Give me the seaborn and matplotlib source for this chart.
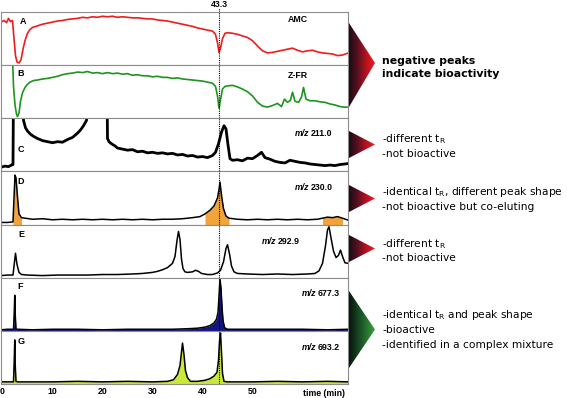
import numpy as np
import pandas as pd
import seaborn as sns
import matplotlib.pyplot as plt
import matplotlib.transforms as mtrans
from matplotlib.patches import Polygon
from matplotlib.colors import LinearSegmentedColormap

sns.set_style('white')
plt.rcParams['font.family'] = ['DejaVu Sans']
plt.rcParams['mathtext.default'] = 'regular'
plt.rcParams['text.color'] = 'black'
plt.rcParams['xtick.color'] = 'black'

# ---------------- data (retention time in min, normalised signal) ----------------
a_t = [-0.3, 0.3, 0.8, 1.2, 1.6, 2.0, 2.3, 2.6, 2.9, 3.3, 3.7, 4.1, 4.5, 5.0, 5.5, 6.0, 7, 8, 9, 10,
       11, 12, 13, 14, 15, 16, 17, 18, 19, 20, 21, 22, 23, 24, 25, 26, 27, 28, 29, 30, 31, 32, 33,
       34, 35, 36, 37, 38, 39, 40, 41, 42, 42.6, 43.0, 43.3, 43.6, 44.0, 44.5, 45, 46, 47, 48, 49,
       50, 51, 52, 53, 54, 55, 56, 57, 58, 59, 60, 61, 62, 63, 64, 65, 66, 67, 68, 69.2]
a_v = [0.81, 0.84, 0.80, 0.88, 0.82, 0.84, 0.50, 0.18, 0.06, 0.04, 0.10, 0.30, 0.46, 0.60, 0.67,
       0.71, 0.74, 0.77, 0.79, 0.81, 0.83, 0.84, 0.86, 0.87, 0.88, 0.90, 0.89, 0.91, 0.90, 0.92,
       0.91, 0.92, 0.90, 0.91, 0.90, 0.89, 0.89, 0.88, 0.87, 0.87, 0.85, 0.84, 0.83, 0.81, 0.79,
       0.77, 0.75, 0.73, 0.70, 0.68, 0.66, 0.64, 0.58, 0.42, 0.24, 0.32, 0.50, 0.60, 0.61, 0.60,
       0.58, 0.55, 0.52, 0.46, 0.36, 0.27, 0.23, 0.24, 0.26, 0.28, 0.30, 0.32, 0.28, 0.25, 0.27,
       0.28, 0.25, 0.23, 0.22, 0.21, 0.18, 0.19, 0.23]

b_t = [2.05, 2.2, 2.5, 2.8, 3.0, 3.3, 3.6, 4.0, 4.5, 5.0, 5.5, 6.2, 7, 8, 9, 10, 11, 12, 13, 14,
       15, 16, 17, 18, 19, 20, 21, 22, 23, 24, 25, 26, 27, 28, 29, 30, 31, 32, 33, 34, 35, 36, 37,
       38, 39, 40, 41, 42, 42.6, 43.0, 43.3, 43.6, 44.0, 44.5, 45, 46, 47, 48, 49, 50, 51, 52, 53,
       54, 55, 55.8, 56.4, 57.0, 57.6, 58.0, 58.5, 59.2, 59.8, 60.2, 60.7, 61.5, 62.5, 63.5, 64.5,
       65.5, 66.5, 67.5, 68.3, 69.2]
b_v = [1.02, 0.60, 0.25, 0.08, 0.03, 0.10, 0.32, 0.48, 0.58, 0.64, 0.68, 0.71, 0.72, 0.74, 0.75,
       0.77, 0.79, 0.82, 0.84, 0.85, 0.87, 0.86, 0.88, 0.85, 0.86, 0.84, 0.86, 0.84, 0.85, 0.83,
       0.84, 0.81, 0.82, 0.80, 0.80, 0.78, 0.79, 0.77, 0.77, 0.75, 0.76, 0.74, 0.73, 0.72, 0.71,
       0.70, 0.68, 0.66, 0.60, 0.42, 0.19, 0.35, 0.55, 0.60, 0.61, 0.62, 0.59, 0.55, 0.50, 0.42,
       0.30, 0.23, 0.21, 0.24, 0.28, 0.22, 0.36, 0.30, 0.34, 0.49, 0.32, 0.30, 0.40, 0.58, 0.36,
       0.33, 0.33, 0.31, 0.30, 0.27, 0.25, 0.22, 0.21, 0.21]

c_t = [-0.3, 0.5, 1.2, 1.8, 2.1, 2.2, 3.9, 4.2, 4.6, 5.0, 5.6, 6.2, 7, 8, 9, 10, 11, 12, 13, 14,
       15, 15.6, 16.2, 16.8, 17.2, 20.9, 21.0, 21.3, 21.8, 22.5, 23, 24, 25, 26, 27, 28, 29, 30, 31,
       32, 33, 34, 35, 36, 37, 38, 39, 40, 41, 42, 42.6, 43.2, 43.8, 44.3, 44.7, 45.1, 45.5, 46, 47,
       48, 49, 50, 51, 51.8, 52.5, 53.5, 54.5, 55.5, 56.5, 57.5, 58.5, 59.5, 60.5, 61.5, 62.5, 63.5,
       64.5, 65.5, 66.5, 67.5, 68.5, 69.2]
c_v = [0.08, 0.10, 0.09, 0.12, 0.13, 1.6, 1.6, 0.96, 0.82, 0.76, 0.70, 0.66, 0.62, 0.58, 0.56,
       0.54, 0.56, 0.55, 0.60, 0.64, 0.72, 0.78, 0.86, 0.96, 1.6, 1.6, 0.62, 0.56, 0.52, 0.48, 0.44,
       0.42, 0.40, 0.41, 0.37, 0.38, 0.35, 0.36, 0.34, 0.35, 0.33, 0.34, 0.31, 0.32, 0.29, 0.30,
       0.27, 0.28, 0.26, 0.30, 0.36, 0.52, 0.74, 0.86, 0.80, 0.50, 0.24, 0.21, 0.22, 0.20, 0.25,
       0.24, 0.30, 0.36, 0.26, 0.23, 0.19, 0.17, 0.16, 0.21, 0.19, 0.17, 0.16, 0.14, 0.13, 0.12,
       0.11, 0.12, 0.11, 0.13, 0.14, 0.15]

d_t = [-0.3, 1, 2.1, 2.3, 2.5, 2.7, 3.0, 3.3, 3.8, 4.5, 6, 8, 10, 12, 14, 16, 18, 20, 22, 24, 26,
       28, 30, 32, 34, 36, 38, 39.5, 40.5, 41.5, 42.3, 43.0, 43.3, 43.5, 43.8, 44.2, 44.7, 45.3, 47,
       49, 51, 53, 55, 57, 59, 61, 63, 64, 65, 66, 67, 68, 69.2]
d_v = [0.04, 0.04, 0.05, 0.50, 0.93, 0.88, 0.52, 0.20, 0.13, 0.12, 0.10, 0.11, 0.09, 0.10, 0.09,
       0.10, 0.09, 0.10, 0.09, 0.10, 0.09, 0.10, 0.09, 0.10, 0.10, 0.11, 0.13, 0.15, 0.20, 0.27,
       0.35, 0.50, 0.66, 0.80, 0.55, 0.30, 0.16, 0.12, 0.10, 0.09, 0.10, 0.09, 0.10, 0.09, 0.10,
       0.09, 0.10, 0.12, 0.14, 0.13, 0.15, 0.12, 0.08]
# retention windows where the D trace is shaded
d_fill_windows = [(2.1, 3.8), (40.5, 45.3), (64.0, 68.0)]

e_t = [-0.3, 1, 2.1, 2.4, 2.6, 2.9, 3.3, 3.8, 5, 8, 11, 14, 17, 20, 23, 26, 28, 30, 31, 32, 33,
       34, 34.5, 34.9, 35.2, 35.5, 35.8, 36.1, 36.5, 37, 38, 38.6, 39.2, 39.8, 41, 42, 43, 43.6,
       44.2, 44.7, 45.0, 45.4, 45.8, 46.3, 47, 49, 52, 55, 58, 61, 62.5, 63.3, 64.0, 64.6, 65.0,
       65.3, 65.7, 66.2, 66.7, 67.2, 67.6, 68.0, 68.5, 69.2]
e_v = [0.04, 0.05, 0.05, 0.30, 0.46, 0.25, 0.10, 0.06, 0.05, 0.04, 0.05, 0.05, 0.05, 0.06, 0.06,
       0.07, 0.08, 0.10, 0.12, 0.15, 0.19, 0.27, 0.40, 0.70, 0.87, 0.72, 0.35, 0.17, 0.11, 0.10,
       0.11, 0.14, 0.12, 0.08, 0.06, 0.06, 0.09, 0.14, 0.30, 0.55, 0.62, 0.45, 0.22, 0.11, 0.08,
       0.07, 0.06, 0.07, 0.06, 0.07, 0.08, 0.13, 0.27, 0.60, 0.90, 0.96, 0.75, 0.50, 0.38, 0.42,
       0.52, 0.40, 0.28, 0.27]

f_t = [-0.3, 1, 2.2, 2.35, 2.45, 2.55, 2.7, 3.0, 6, 10, 15, 20, 25, 30, 34, 37, 39, 40.5, 41.5,
       42.3, 42.8, 43.1, 43.3, 43.5, 43.7, 43.9, 44.1, 44.4, 45, 50, 55, 60, 65, 69.2]
f_v = [0.02, 0.03, 0.03, 0.35, 0.67, 0.30, 0.03, 0.03, 0.02, 0.03, 0.03, 0.02, 0.03, 0.03, 0.03,
       0.04, 0.05, 0.07, 0.10, 0.15, 0.22, 0.35, 0.65, 0.98, 0.80, 0.45, 0.20, 0.06, 0.03, 0.03,
       0.03, 0.03, 0.02, 0.03]

g_t = [-0.3, 1, 2.2, 2.35, 2.45, 2.55, 2.7, 3.0, 6, 10, 15, 20, 25, 30, 33, 34.2, 35.0, 35.5,
       35.8, 36.0, 36.3, 36.6, 37.0, 37.6, 39, 40.5, 41.5, 42.3, 42.9, 43.2, 43.4, 43.6, 43.8,
       44.0, 44.3, 45, 50, 55, 60, 65, 69.2]
g_v = [0.04, 0.04, 0.04, 0.45, 0.83, 0.35, 0.05, 0.04, 0.04, 0.04, 0.05, 0.04, 0.05, 0.04, 0.05,
       0.08, 0.18, 0.35, 0.60, 0.77, 0.55, 0.25, 0.12, 0.05, 0.05, 0.07, 0.10, 0.15, 0.22, 0.45,
       0.80, 0.96, 0.60, 0.20, 0.05, 0.04, 0.04, 0.05, 0.04, 0.05, 0.04]

panel_letters = ['A', 'B', 'C', 'D', 'E', 'F', 'G']
panel_tags = ['AMC', 'Z-FR', '211.0', '230.0', '292.9', '677.3', '693.2']
x_ticks = [0, 10, 20, 30, 40, 50]
active_time = 43.3

# ---------------- layout ----------------
W, H = 567, 398
fig = plt.figure(figsize=(W / 100, H / 100), dpi=100)
XMIN, XMAX = -0.4, 69.0
gs = fig.add_gridspec(7, 1, left=0.5 / W, right=347.5 / W, top=1 - 12 / H,
                      bottom=1 - 384 / H, hspace=0)
axes = [fig.add_subplot(gs[i]) for i in range(7)]

traces = [
    dict(t=a_t, v=a_v, color='#ee1c1c', lw=1.2, fill=None, win=None),
    dict(t=b_t, v=b_v, color='#1e931e', lw=1.2, fill=None, win=None),
    dict(t=c_t, v=c_v, color='black', lw=2.0, fill=None, win=None),
    dict(t=d_t, v=d_v, color='black', lw=1.1, fill='#f2a33a', win=d_fill_windows),
    dict(t=e_t, v=e_v, color='black', lw=1.1, fill=None, win=None),
    dict(t=f_t, v=f_v, color='black', lw=1.1, fill='#141482', win=None),
    dict(t=g_t, v=g_v, color='black', lw=1.1, fill='#c9e83a', win=None),
]

for ax, tr in zip(axes, traces):
    df = pd.DataFrame({'t': tr['t'], 'v': tr['v']})
    if tr['fill'] is not None:
        if tr['win'] is None:
            ax.fill_between(df['t'], 0, df['v'], color=tr['fill'], lw=0, zorder=1)
        else:
            for lo, hi in tr['win']:
                sub = df[(df['t'] >= lo) & (df['t'] <= hi)]
                ax.fill_between(sub['t'], 0, sub['v'], color=tr['fill'], lw=0, zorder=1)
    sns.lineplot(data=df, x='t', y='v', ax=ax, color=tr['color'], lw=tr['lw'],
                 estimator=None, sort=False, zorder=2)
    ax.set_xlim(XMIN, XMAX)
    ax.set_ylim(0, 1)
    ax.set_xticks([])
    ax.set_yticks([])
    ax.set_xlabel('')
    ax.set_ylabel('')
    for s in ax.spines.values():
        s.set_color('#8c8c8c')
        s.set_linewidth(0.8)
    ax.axvline(active_time, color='black', ls=(0, (1, 1)), lw=0.8, zorder=3)

# bottom axis ticks
axG = axes[-1]
axG.set_xticks(x_ticks)
axG.set_xticklabels([str(v) for v in x_ticks], fontsize=6.3, fontweight='bold',
                    family='Liberation Sans')
axG.tick_params(axis='x', length=0, pad=2.5)

# dotted marker label above panel A
axA = axes[0]
axA.axvline(active_time, ymin=1, ymax=1.08, color='black', ls=(0, (1, 1)), lw=0.8,
            clip_on=False)
trans = mtrans.blended_transform_factory(axA.transData, axA.transAxes)
axA.text(active_time, 1.145, '43.3', transform=trans, ha='center', va='center',
         fontsize=6.3, fontweight='bold', family='Liberation Sans')

# ---------------- overlay for annotations ----------------
ov = fig.add_axes([0, 0, 1, 1])
ov.set_xlim(0, W)
ov.set_ylim(H, 0)
ov.axis('off')
ov.patch.set_alpha(0)

lab_pos = [(23, 21), (21, 74), (21, 150), (21, 181), (21, 234.5), (20, 286.5), (21, 341)]
for (x, y), s in zip(lab_pos, panel_letters):
    ov.text(x, y, s, ha='center', va='center', fontsize=6.5, fontweight='bold',
            family='Liberation Sans')

ov.text(298, 20, panel_tags[0], ha='center', va='center', fontsize=6.3, fontweight='bold',
        family='Liberation Sans')
ov.text(298, 76, panel_tags[1], ha='center', va='center', fontsize=6.3, fontweight='bold',
        family='Liberation Sans')
mz_pos = [(311, 134), (311, 187), (277.5, 241), (318, 293), (318, 347)]
for (x, y), s in zip(mz_pos, panel_tags[2:]):
    ov.text(x - 1.5, y, 'm/z', ha='right', va='center', fontsize=6.3, fontweight='bold',
            style='italic', family='Liberation Sans')
    ov.text(x, y, s, ha='left', va='center', fontsize=6.3, fontweight='bold',
            family='Liberation Sans')

ov.text(324, 393.5, 'time (min)', ha='center', va='center', fontsize=6.3, fontweight='bold',
        family='Liberation Sans')

red_cols = ['#1a0c14', '#5a1020', '#b8121e', '#f01c24']
green_cols = ['#08140c', '#1c5a28', '#3aa03c']


def gradient_triangle(pts, cols):
    cmap = LinearSegmentedColormap.from_list('tri', cols)
    xs = [p[0] for p in pts]
    ys = [p[1] for p in pts]
    grad = np.linspace(0, 1, 256).reshape(1, -1)
    im = ov.imshow(grad, cmap=cmap, extent=[min(xs), max(xs), max(ys), min(ys)],
                   aspect='auto', zorder=2, interpolation='bilinear')
    poly = Polygon(pts, closed=True, facecolor='none', edgecolor='none',
                   transform=ov.transData)
    ov.add_patch(poly)
    im.set_clip_path(poly)


gradient_triangle([(349, 23), (349, 107), (375, 63)], red_cols)
gradient_triangle([(349, 131), (349, 158), (375, 144.5)], red_cols)
gradient_triangle([(349, 185), (349, 212), (375, 198.5)], red_cols)
gradient_triangle([(349, 235), (349, 262), (375, 248.5)], red_cols)
gradient_triangle([(349, 291), (349, 368), (375, 329.5)], green_cols)
ov.set_xlim(0, W)
ov.set_ylim(H, 0)

ov.text(382, 64, 'negative peaks', fontsize=7.8, fontweight='bold', va='baseline')
ov.text(382, 77, 'indicate bioactivity', fontsize=7.8, fontweight='bold', va='baseline')

notes = [
    (142, '-different t$_{R}$'),
    (157, '-not bioactive'),
    (195, '-identical t$_{R}$, different peak shape'),
    (210, '-not bioactive but co-eluting'),
    (247, '-different t$_{R}$'),
    (261, '-not bioactive'),
    (318, '-identical t$_{R}$ and peak shape'),
    (333, '-bioactive'),
    (348, '-identified in a complex mixture'),
]
for y, s in notes:
    ov.text(382, y, s, fontsize=7.7, va='baseline')

fig.savefig('out.png', dpi=100)
